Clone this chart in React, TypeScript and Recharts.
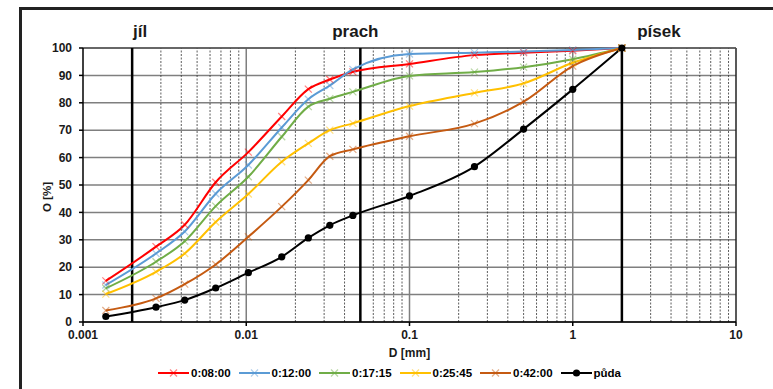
import React from 'react';
import { LineChart, Line, XAxis, YAxis, CartesianGrid, ReferenceLine } from 'recharts';

// grain diameters D [mm] shared by all measurements
const DIAMETERS = [0.00138, 0.0028, 0.0042, 0.0065, 0.0103, 0.0165, 0.024, 0.0325, 0.045, 0.1, 0.25, 0.5, 1, 2];

// passing percentages O [%]
const T_0800 = [15, 27.5, 35.5, 51, 62, 75, 85, 88.5, 91.3, 94.2, 97.4, 98.3, 99, 100];
const T_1200 = [13.5, 25, 33, 46.8, 57.3, 71, 81.3, 86.3, 92.2, 97.8, 98.3, 98.7, 99.3, 100];
const T_1715 = [12.3, 22, 29.5, 42.3, 53, 67.6, 78.6, 81.5, 84, 89.8, 91.2, 93, 95.9, 100];
const T_2545 = [10.2, 18.3, 25, 36.5, 46.7, 58.5, 65.2, 70, 72.5, 78.8, 83.6, 87.1, 94.6, 100];
const T_4200 = [4.2, 8.6, 13.8, 21, 31.1, 42.1, 51.8, 60.5, 63, 67.8, 72.4, 80.4, 93.4, 100];
const PUDA = [2, 5.4, 8, 12.4, 18, 23.8, 30.7, 35.3, 38.9, 46, 56.7, 70.4, 84.9, 100];

const X_MAJOR = [0.001, 0.01, 0.1, 1, 10];
const Y_TICKS = [0, 10, 20, 30, 40, 50, 60, 70, 80, 90, 100];
const ZONES = [
  { x: 0.002, label: 'jíl', dx: 8 },
  { x: 0.05, label: 'prach', dx: -5 },
  { x: 2, label: 'písek', dx: 37 },
];

const SERIES = [
  { key: 't0800', name: '0:08:00', color: '#FF0000', values: T_0800, marker: 'x' },
  { key: 't1200', name: '0:12:00', color: '#5B9BD5', values: T_1200, marker: 'x' },
  { key: 't1715', name: '0:17:15', color: '#70AD47', values: T_1715, marker: 'x' },
  { key: 't2545', name: '0:25:45', color: '#FFC000', values: T_2545, marker: 'x' },
  { key: 't4200', name: '0:42:00', color: '#C55A11', values: T_4200, marker: 'x' },
  { key: 'puda', name: 'půda', color: '#000000', values: PUDA, marker: 'dot' },
];

const data = DIAMETERS.map((d, i) => {
  const row: Record<string, number> = { d };
  SERIES.forEach((s) => (row[s.key] = s.values[i]));
  return row;
});

// minor log grid lines (2..9 in every decade)
const X_MINOR: number[] = [];
X_MAJOR.slice(0, -1).forEach((base) => {
  for (let k = 2; k <= 9; k++) X_MINOR.push(+(base * k).toPrecision(3));
});

const FONT = '"Liberation Sans", Arial, sans-serif';

const Marker = ({ cx, cy, color, kind }: any) => {
  if (cx == null || cy == null) return null;
  if (kind === 'dot') return <circle cx={cx} cy={cy} r={3.6} fill={color} />;
  const r = 3.5;
  return (
    <g stroke={color} strokeOpacity={0.5} strokeWidth={1.2}>
      <line x1={cx - r} y1={cy - r} x2={cx + r} y2={cy + r} />
      <line x1={cx - r} y1={cy + r} x2={cx + r} y2={cy - r} />
    </g>
  );
};

const LegendBox = () => (
  <div
    style={{
      position: 'absolute',
      left: 158,
      top: 366,
      display: 'flex',
      fontFamily: FONT,
      fontWeight: 700,
      fontSize: 11.5,
      color: '#000',
    }}
  >
    {SERIES.map((s) => (
      <div key={s.key} style={{ display: 'flex', alignItems: 'center', width: 80.5 }}>
        <svg width={31} height={14} style={{ marginRight: 2 }}>
          <line x1={0} y1={7} x2={31} y2={7} stroke={s.color} strokeWidth={2} />
          <Marker cx={15.5} cy={7} color={s.color} kind={s.marker} />
        </svg>
        <span>{s.name}</span>
      </div>
    ))}
  </div>
);

export default function App() {
  return (
    <div style={{ position: 'absolute', left: 0, top: 0, width: 773, height: 389, background: '#fff' }}>
      <div
        style={{
          position: 'absolute',
          left: 19,
          top: 7,
          width: 751,
          height: 400,
          borderTop: '3px solid #222',
          borderLeft: '3px solid #222',
          borderRight: '1px solid #ddd',
        }}
      />
      <LineChart
        width={773}
        height={389}
        data={data}
        margin={{ top: 48, right: 37, left: 20, bottom: 0 }}
        style={{ position: 'absolute', left: 0, top: 0, fontFamily: FONT }}
      >
        <CartesianGrid horizontal vertical={false} stroke="#7f7f7f" strokeWidth={1.5} />
        {X_MINOR.map((x) => (
          <ReferenceLine key={`m${x}`} x={x} stroke="#333" strokeWidth={0.8} strokeDasharray="2 1.5" />
        ))}
        {X_MAJOR.slice(1, -1).map((x) => (
          <ReferenceLine key={`M${x}`} x={x} stroke="#7f7f7f" strokeWidth={1.5} />
        ))}
        <ReferenceLine x={10} stroke="#222" strokeWidth={1.5} />
        <ReferenceLine y={100} stroke="#555" strokeWidth={1.5} />
        {ZONES.map((z) => (
          <ReferenceLine
            key={z.label}
            x={z.x}
            stroke="#000"
            strokeWidth={2.5}
            label={({ viewBox }: any) => (
              <text
                x={viewBox.x + z.dx}
                y={viewBox.y - 11}
                textAnchor="middle"
                fontFamily={FONT}
                fontWeight={700}
                fontSize={17}
                fill="#1a1a1a"
              >
                {z.label}
              </text>
            )}
          />
        ))}
        <XAxis
          dataKey="d"
          type="number"
          scale="log"
          domain={[0.001, 10]}
          ticks={X_MAJOR}
          allowDataOverflow
          height={67}
          tickSize={4}
          tickMargin={4}
          stroke="#000"
          strokeWidth={1.5}
          tick={{ fill: '#1a1a1a', fontSize: 12, fontWeight: 700, fontFamily: FONT }}
          tickFormatter={(v: number) => String(v)}
          label={{ value: 'D [mm]', position: 'insideTop', offset: 26, fill: '#1a1a1a', fontSize: 12, fontWeight: 700 }}
        />
        <YAxis
          type="number"
          domain={[0, 100]}
          ticks={Y_TICKS}
          width={63}
          tickSize={4}
          tickMargin={7}
          stroke="#000"
          strokeWidth={1.5}
          tick={{ fill: '#1a1a1a', fontSize: 12, fontWeight: 700, fontFamily: FONT }}
          label={() => (
            <text
              x={48}
              y={197}
              transform="rotate(-90 48 197)"
              textAnchor="middle"
              dominantBaseline="middle"
              fontFamily={FONT}
              fontWeight={700}
              fontSize={11.5}
              fill="#1a1a1a"
            >
              O [%]
            </text>
          )}
        />
        {SERIES.map((s) => (
          <Line
            key={s.key}
            type="monotone"
            dataKey={s.key}
            name={s.name}
            stroke={s.color}
            strokeWidth={2}
            isAnimationActive={false}
            dot={(p: any) => <Marker key={`${s.key}-${p.index}`} cx={p.cx} cy={p.cy} color={s.color} kind={s.marker} />}
            activeDot={false}
          />
        ))}
      </LineChart>
      <LegendBox />
    </div>
  );
}
